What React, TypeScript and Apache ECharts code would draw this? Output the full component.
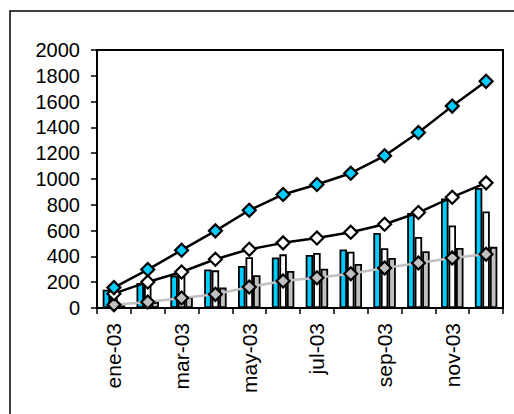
import React, { useEffect, useRef } from "react";
import * as echarts from "echarts";

const categories = ["ene-03", "feb-03", "mar-03", "abr-03", "may-03", "jun-03", "jul-03", "ago-03", "sep-03", "oct-03", "nov-03", "dic-03"];
const cyanBar = [142, 194, 251, 298, 326, 391, 411, 453, 582, 737, 849, 931];
const whiteBar = [110, 180, 255, 292, 393, 416, 427, 437, 463, 551, 639, 748];
const grayBar = [20, 47, 85, 158, 254, 287, 305, 342, 388, 440, 466, 474];
const cyanLine = [158, 298, 448, 598, 758, 880, 957, 1045, 1180, 1361, 1565, 1757];
const whiteLine = [111, 202, 279, 378, 455, 505, 543, 587, 649, 740, 859, 970];
const grayLine = [26, 47, 78, 106, 163, 210, 235, 266, 310, 349, 388, 417];

const CYAN = "#00CCFF";
const GRAY = "#C0C0C0";
const FONT = "'Liberation Sans', Arial, sans-serif";

export default function App() {
  const ref = useRef<HTMLDivElement>(null);
  useEffect(() => {
    if (!ref.current) return;
    const chart = echarts.init(ref.current, null, { renderer: "svg" });
    const bar = (name: string, data: number[], color: string) => ({
      name,
      type: "bar",
      data,
      barWidth: 7.5,
      barGap: "0%",
      itemStyle: { color, borderColor: "#000", borderWidth: 1.8 },
      z: 2,
    });
    const line = (name: string, data: number[], fill: string, lineColor: string, z: number) => ({
      name,
      type: "line",
      data,
      symbol: "diamond",
      symbolSize: 13,
      showSymbol: true,
      lineStyle: { color: lineColor, width: 2.5 },
      itemStyle: { color: fill, borderColor: "#000", borderWidth: 2.2 },
      z,
    });
    chart.setOption({
      animation: false,
      backgroundColor: "#fff",
      textStyle: { fontFamily: FONT },
      graphic: [
        {
          type: "rect",
          shape: { x: 10, y: 11, width: 700, height: 700 },
          style: { fill: "none", stroke: "#000", lineWidth: 1.5 },
          silent: true,
        },
      ],
      grid: {
        left: 97,
        top: 50,
        right: 11,
        bottom: 106,
        show: true,
        borderColor: "#000",
        borderWidth: 2,
        backgroundColor: "transparent",
      },
      xAxis: {
        type: "category",
        data: categories,
        boundaryGap: true,
        axisLine: { show: true, lineStyle: { color: "#000", width: 2 } },
        axisTick: { show: true, interval: 0, length: 6, lineStyle: { color: "#000", width: 1.5 } },
        axisLabel: { interval: 1, rotate: 90, fontSize: 21, color: "#000", margin: 15, fontFamily: FONT },
        splitLine: { show: false },
      },
      yAxis: {
        type: "value",
        min: 0,
        max: 2000,
        interval: 200,
        axisLine: { show: true, lineStyle: { color: "#000", width: 2 } },
        axisTick: { show: true, length: 6, lineStyle: { color: "#000", width: 1.5 } },
        axisLabel: { fontSize: 20, color: "#000", margin: 17, fontFamily: FONT, formatter: (v: number) => String(v) },
        splitLine: { show: false },
      },
      series: [
        bar("A", cyanBar, CYAN),
        bar("B", whiteBar, "#FFFFFF"),
        bar("C", grayBar, GRAY),
        line("D", grayLine, GRAY, GRAY, 3),
        line("E", whiteLine, "#FFFFFF", "#000", 4),
        line("F", cyanLine, CYAN, "#000", 5),
      ],
    });
    return () => chart.dispose();
  }, []);
  return <div ref={ref} style={{ position: "fixed", left: 0, top: 0, width: 514, height: 414 }} />;
}
